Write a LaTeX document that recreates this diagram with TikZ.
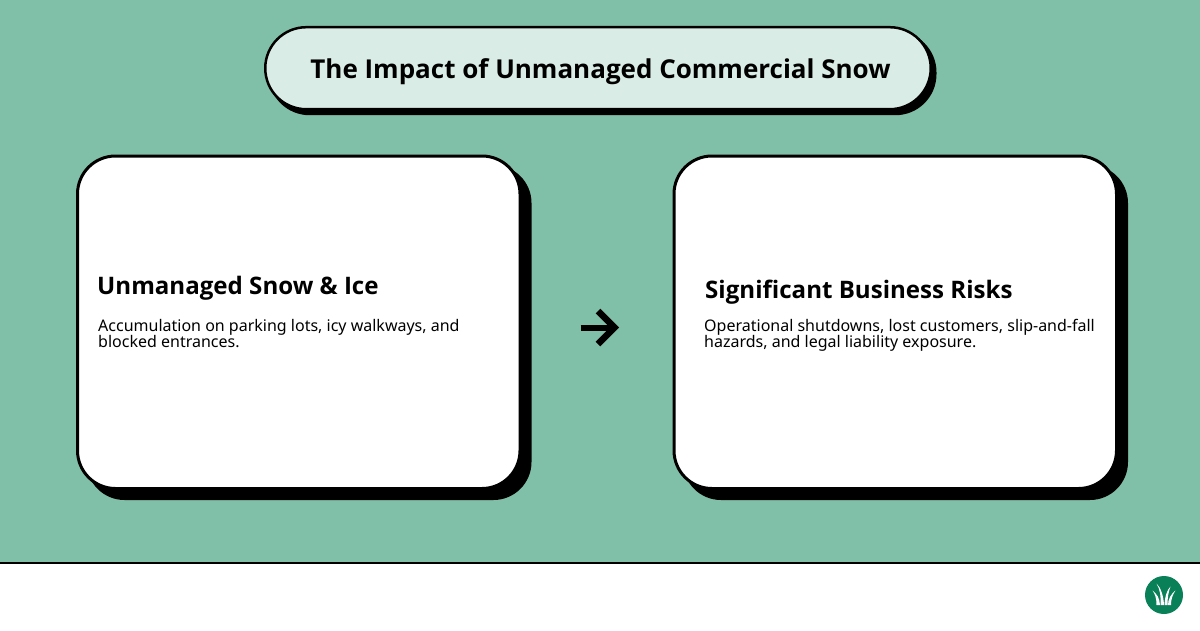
\documentclass[tikz,border=0pt]{standalone}
\usepackage{fontspec}
\setmainfont{Noto Sans}
\newfontfamily\headfont{Open Sans}
\definecolor{bgteal}{HTML}{80C0A9}
\definecolor{pill}{HTML}{DAECE6}
\definecolor{leaf}{HTML}{0A8058}
\tikzset{x=1pt,y=-1pt,
 cardbox/.style={draw=black,line width=3pt,fill=white,rounded corners=38pt,minimum width=442.5pt,minimum height=332.5pt,inner sep=0pt,outer sep=0pt},
 cardshadow/.style={fill=black,rounded corners=38pt,minimum width=445pt,minimum height=335pt,inner sep=0pt,outer sep=0pt},
 heading/.style={anchor=base west,inner sep=0pt,font=\fontsize{24.1}{28}\selectfont\headfont\bfseries},
 bodytext/.style={anchor=base west,inner sep=0pt,font=\fontsize{16}{15}\selectfont,align=left},
}
\begin{document}
\begin{tikzpicture}
\useasboundingbox (0,0) rectangle (1200,630);
\fill[bgteal] (0,0) rectangle (1200,562);
\fill[white] (0,562) rectangle (1200,630);
\draw[line width=2pt] (0,562.5) -- (1200,562.5);
% title
\node[fill=black,rounded corners=41pt,minimum width=668pt,minimum height=84pt,inner sep=0pt] (titleshadow) at (602.5,73.2) {};
\node[draw=black,line width=2.5pt,fill=pill,rounded corners=41pt,minimum width=665.5pt,minimum height=82pt,inner sep=0pt] (titlebox) at (598,68.2) {};
\node[anchor=base,inner sep=0pt,font=\fontsize{26}{32}\selectfont\headfont\bfseries] (titletext) at (600.5,78) {The Impact of Unmanaged Commercial Snow};
% cards
\node[cardshadow] (lshadow) at (309,332.5) {};
\node[cardbox] (lcard) at (298.75,322.25) {};
\node[cardshadow] (rshadow) at (905.5,332.5) {};
\node[cardbox] (rcard) at (895.25,322.25) {};
% text
\node[heading] (lhead) at (97,294) {Unmanaged Snow \& Ice};
\node[heading] (rhead) at (705,298) {Significant Business Risks};
\node[bodytext] (lb1) at (98,331) {Accumulation on parking lots, icy walkways, and};
\node[bodytext] (lb2) at (98,347) {blocked entrances.};
\node[bodytext] (rb1) at (704,331) {Operational shutdowns, lost customers, slip-and-fall};
\node[bodytext] (rb2) at (704,347) {hazards, and legal liability exposure.};
% arrow
\draw[line width=6pt] (580.5,327.5) -- (614,327.5);
\draw[line width=6.5pt,miter limit=10] (598,311) -- (614.5,327.5) -- (598,344);
% logo
\fill[leaf] (1164,595) circle (19);
\fill[white] (1156.5,605) .. controls (1156.5,598) and (1155,594) .. (1152.5,590.5) .. controls (1157,594) and (1159.5,598) .. (1160,605) -- cycle;
\fill[white] (1160.5,605) .. controls (1161,596) and (1160,589) .. (1156.5,583.5) .. controls (1161,588) and (1163.5,596) .. (1164,605) -- cycle;
\fill[white] (1164.5,605) .. controls (1165,596) and (1167,590) .. (1170.5,586.5) .. controls (1168.5,592) and (1167.5,597) .. (1167.5,605) -- cycle;
\fill[white] (1168,605) .. controls (1168,599) and (1171,594) .. (1175.5,590.5) .. controls (1172.5,595) and (1171,599) .. (1171,605) -- cycle;
\end{tikzpicture}
\end{document}
